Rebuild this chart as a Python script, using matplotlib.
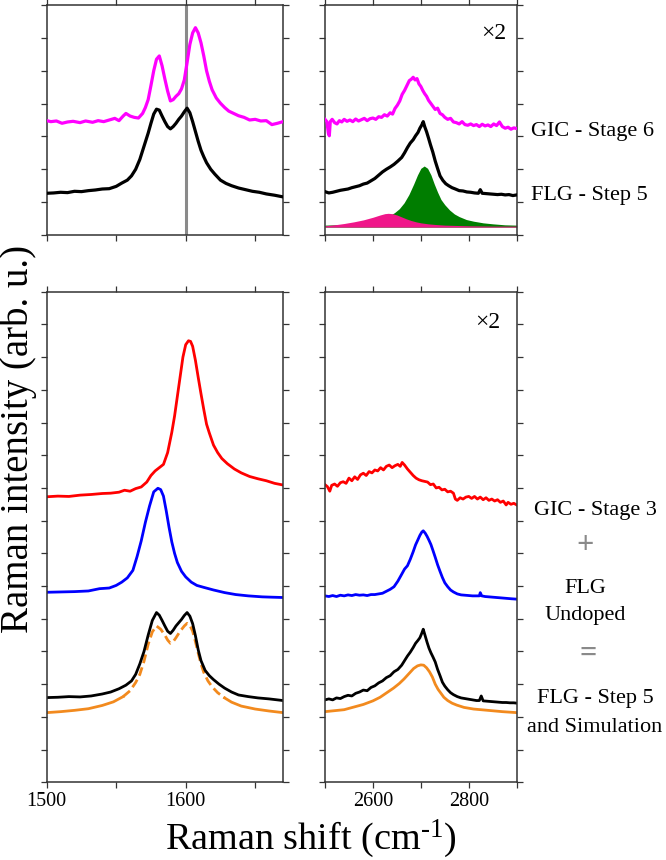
import numpy as np
import matplotlib
matplotlib.use('Agg')
import matplotlib.pyplot as plt

plt.rcParams['font.family'] = ['Liberation Serif', 'DejaVu Serif']
plt.rcParams['mathtext.fontset'] = 'custom'
plt.rcParams['mathtext.rm'] = 'Liberation Serif'
plt.rcParams['mathtext.default'] = 'regular'

# ---------------- data (x = Raman shift, y = offset intensity, arb. u.) ----------------
# top-left: G band
tl_gic6 = np.array([
    [1500, 3.48], [1503, 3.45], [1507, 3.47], [1511, 3.40], [1515, 3.44], [1519, 3.46],
    [1524, 3.42], [1528, 3.47], [1533, 3.43], [1537, 3.48], [1541, 3.45], [1545, 3.50],
    [1549, 3.55], [1552, 3.48], [1555, 3.62], [1557, 3.70], [1560, 3.62], [1563, 3.58],
    [1566, 3.56], [1569, 3.70], [1571, 3.88], [1573, 4.12], [1575, 4.55], [1577, 5.00],
    [1579, 5.35], [1581, 5.45], [1583, 5.15], [1585, 4.75], [1587, 4.38], [1589, 4.08],
    [1591, 4.12], [1593, 4.22], [1595, 4.30], [1597, 4.45], [1599, 4.72], [1601, 5.25],
    [1603, 5.80], [1605, 6.15], [1607, 6.31], [1609, 6.15], [1611, 5.85], [1613, 5.45],
    [1615, 5.00], [1617, 4.68], [1619, 4.42], [1622, 4.17], [1625, 4.01], [1628, 3.88],
    [1631, 3.77], [1634, 3.71], [1638, 3.63], [1642, 3.58], [1646, 3.50], [1650, 3.52],
    [1654, 3.47], [1658, 3.48], [1662, 3.36], [1666, 3.40], [1670, 3.45]])
tl_flg5 = np.array([
    [1500, 1.27], [1505, 1.28], [1510, 1.30], [1515, 1.29], [1520, 1.33], [1525, 1.32],
    [1530, 1.35], [1535, 1.37], [1540, 1.40], [1545, 1.41], [1550, 1.48], [1554, 1.58],
    [1558, 1.67], [1561, 1.80], [1564, 2.00], [1567, 2.30], [1570, 2.70], [1573, 3.10],
    [1575, 3.40], [1577, 3.68], [1579, 3.83], [1581, 3.80], [1583, 3.62], [1585, 3.45],
    [1587, 3.30], [1589, 3.23], [1591, 3.30], [1593, 3.40], [1595, 3.52], [1597, 3.62],
    [1599, 3.75], [1601, 3.86], [1603, 3.72], [1605, 3.45], [1607, 3.15], [1609, 2.85],
    [1611, 2.58], [1613, 2.38], [1615, 2.20], [1618, 2.00], [1621, 1.85], [1625, 1.67],
    [1629, 1.57], [1633, 1.50], [1638, 1.43], [1643, 1.38], [1648, 1.33], [1653, 1.30],
    [1658, 1.25], [1664, 1.21], [1670, 1.16]])

# top-right: 2D band
tr_gic6 = np.array([
    [2500, 3.52], [2504, 3.45], [2507, 3.10], [2509, 3.02], [2511, 3.45], [2515, 3.52],
    [2520, 3.42], [2525, 3.38], [2530, 3.48], [2535, 3.44], [2540, 3.52], [2546, 3.46],
    [2552, 3.50], [2558, 3.45], [2564, 3.53], [2570, 3.47], [2576, 3.51], [2582, 3.55],
    [2588, 3.48], [2594, 3.54], [2600, 3.56], [2606, 3.52], [2612, 3.60], [2618, 3.58],
    [2624, 3.66], [2630, 3.62], [2636, 3.72], [2641, 3.68], [2646, 3.85], [2651, 3.95],
    [2656, 4.08], [2661, 4.28], [2666, 4.40], [2671, 4.55], [2676, 4.70], [2680, 4.74],
    [2684, 4.80], [2688, 4.72], [2692, 4.76], [2696, 4.60], [2700, 4.52], [2704, 4.40],
    [2708, 4.30], [2712, 4.22], [2716, 4.10], [2720, 4.02], [2725, 3.92], [2730, 3.82],
    [2735, 3.86], [2740, 3.70], [2745, 3.66], [2750, 3.58], [2756, 3.52], [2762, 3.55],
    [2768, 3.44], [2774, 3.42], [2780, 3.38], [2786, 3.45], [2792, 3.36], [2798, 3.34],
    [2804, 3.38], [2810, 3.33], [2816, 3.36], [2822, 3.30], [2828, 3.37], [2834, 3.32],
    [2840, 3.35], [2846, 3.30], [2852, 3.38], [2858, 3.33], [2864, 3.44], [2870, 3.30],
    [2876, 3.25], [2882, 3.28], [2888, 3.22], [2894, 3.26], [2900, 3.24]])
tr_flg5 = np.array([
    [2500, 1.32], [2508, 1.28], [2516, 1.30], [2524, 1.33], [2532, 1.36], [2540, 1.38],
    [2548, 1.40], [2556, 1.44], [2564, 1.47], [2572, 1.50], [2580, 1.55], [2588, 1.58],
    [2596, 1.65], [2604, 1.72], [2612, 1.82], [2620, 1.92], [2628, 2.00], [2636, 2.07],
    [2644, 2.15], [2652, 2.25], [2660, 2.36], [2666, 2.50], [2672, 2.66], [2678, 2.80],
    [2684, 2.90], [2689, 3.02], [2694, 3.12], [2698, 3.25], [2702, 3.35], [2705, 3.45],
    [2708, 3.30], [2712, 3.14], [2716, 2.95], [2720, 2.75], [2725, 2.52], [2730, 2.25],
    [2735, 2.02], [2740, 1.80], [2746, 1.66], [2752, 1.56], [2758, 1.50], [2765, 1.44],
    [2772, 1.40], [2780, 1.35], [2788, 1.34], [2796, 1.31], [2804, 1.30], [2812, 1.28],
    [2820, 1.27], [2824, 1.38], [2828, 1.27], [2836, 1.26], [2844, 1.25], [2852, 1.24],
    [2860, 1.23], [2868, 1.24], [2876, 1.22], [2884, 1.23], [2892, 1.20], [2900, 1.22]])
tr_fit_base = 0.24
tr_fit_green = np.array([
    [2500, 0.30], [2520, 0.31], [2540, 0.32], [2560, 0.34], [2580, 0.37], [2600, 0.42],
    [2615, 0.47], [2630, 0.55], [2645, 0.68], [2655, 0.80], [2665, 0.98], [2675, 1.23],
    [2685, 1.55], [2693, 1.83], [2700, 2.03], [2707, 2.10], [2714, 2.03], [2721, 1.83],
    [2728, 1.55], [2735, 1.30], [2742, 1.08], [2750, 0.92], [2760, 0.76], [2770, 0.64],
    [2780, 0.56], [2795, 0.47], [2810, 0.42], [2830, 0.37], [2850, 0.34], [2875, 0.31],
    [2900, 0.30]])
tr_fit_pink = np.array([
    [2500, 0.28], [2520, 0.31], [2540, 0.35], [2560, 0.40], [2580, 0.46], [2600, 0.54],
    [2615, 0.61], [2625, 0.65], [2632, 0.66], [2640, 0.65], [2650, 0.61], [2660, 0.55],
    [2670, 0.49], [2680, 0.44], [2690, 0.40], [2700, 0.37], [2715, 0.34], [2730, 0.32],
    [2750, 0.30], [2775, 0.29], [2800, 0.28], [2850, 0.27], [2900, 0.27]])

# bottom-left: G band
bl_gic3 = np.array([
    [1500, 8.73], [1508, 8.75], [1516, 8.74], [1524, 8.78], [1532, 8.80], [1540, 8.83],
    [1546, 8.84], [1552, 8.87], [1556, 8.93], [1560, 8.90], [1564, 8.98], [1568, 9.03],
    [1572, 9.18], [1575, 9.38], [1578, 9.52], [1581, 9.62], [1584, 9.72], [1587, 10.08],
    [1590, 10.70], [1592, 11.20], [1594, 11.80], [1596, 12.40], [1598, 13.00], [1600, 13.38],
    [1602, 13.50], [1603.5, 13.48], [1605, 13.33], [1607, 12.90], [1609, 12.38], [1611, 11.88],
    [1613, 11.40], [1615, 10.95], [1617, 10.68], [1620, 10.31], [1623, 10.08], [1626, 9.90],
    [1630, 9.74], [1635, 9.58], [1640, 9.46], [1646, 9.35], [1652, 9.28], [1658, 9.22],
    [1664, 9.14], [1670, 9.09]])
bl_undoped = np.array([
    [1500, 5.81], [1510, 5.82], [1520, 5.83], [1530, 5.85], [1538, 5.92], [1545, 5.94],
    [1550, 6.02], [1554, 6.12], [1558, 6.25], [1562, 6.48], [1565, 6.90], [1568, 7.38],
    [1571, 7.95], [1574, 8.45], [1577, 8.88], [1580, 8.99], [1582, 8.95], [1584, 8.75],
    [1586, 8.30], [1588, 7.80], [1590, 7.35], [1592, 7.00], [1594, 6.72], [1597, 6.45],
    [1600, 6.28], [1604, 6.12], [1608, 6.02], [1613, 5.96], [1620, 5.88], [1628, 5.80],
    [1636, 5.74], [1645, 5.70], [1655, 5.67], [1662, 5.66], [1670, 5.65]])
bl_flg5 = np.array([
    [1500, 2.59], [1508, 2.60], [1516, 2.62], [1524, 2.61], [1532, 2.64], [1540, 2.70],
    [1546, 2.76], [1552, 2.86], [1557, 2.97], [1561, 3.10], [1564, 3.30], [1567, 3.62],
    [1570, 4.00], [1573, 4.50], [1576, 4.95], [1579, 5.19], [1581, 5.11], [1583, 4.95],
    [1585, 4.78], [1587, 4.62], [1589, 4.55], [1591, 4.65], [1593, 4.78], [1595, 4.88],
    [1597, 4.98], [1599, 5.10], [1601, 5.19], [1603, 5.08], [1605, 4.85], [1607, 4.48],
    [1609, 4.05], [1611, 3.72], [1614, 3.42], [1617, 3.26], [1620, 3.14], [1624, 3.00],
    [1628, 2.88], [1633, 2.76], [1638, 2.67], [1645, 2.62], [1652, 2.58], [1660, 2.55],
    [1670, 2.50]])
bl_sim = np.array([
    [1500, 2.13], [1510, 2.16], [1520, 2.20], [1530, 2.25], [1540, 2.35], [1548, 2.46],
    [1555, 2.62], [1560, 2.80], [1564, 3.05], [1567, 3.30], [1570, 3.70], [1573, 4.22],
    [1576, 4.60], [1579, 4.78], [1582, 4.68], [1585, 4.50], [1587, 4.35], [1589, 4.25],
    [1591, 4.30], [1593, 4.42], [1596, 4.62], [1599, 4.78], [1601, 4.86], [1603, 4.80],
    [1605, 4.62], [1607, 4.30], [1609, 3.95], [1611, 3.62], [1613, 3.36], [1616, 3.10],
    [1619, 2.92], [1623, 2.74], [1628, 2.58], [1633, 2.45], [1640, 2.33], [1650, 2.24],
    [1660, 2.18], [1670, 2.13]])
bl_sim_dashed_range = (1555, 1628)

# bottom-right: 2D band
br_gic3 = np.array([
    [2500, 9.10], [2505, 9.04], [2510, 8.90], [2514, 9.08], [2520, 9.12], [2526, 9.05],
    [2532, 9.16], [2538, 9.19], [2544, 9.14], [2550, 9.30], [2556, 9.22], [2562, 9.34],
    [2568, 9.26], [2574, 9.40], [2580, 9.45], [2586, 9.38], [2592, 9.50], [2598, 9.46],
    [2604, 9.55], [2610, 9.52], [2616, 9.62], [2622, 9.55], [2628, 9.66], [2634, 9.70],
    [2640, 9.62], [2646, 9.68], [2652, 9.72], [2657, 9.66], [2661, 9.78], [2666, 9.70],
    [2672, 9.58], [2678, 9.48], [2684, 9.38], [2690, 9.30], [2696, 9.25], [2702, 9.22],
    [2708, 9.20], [2714, 9.18], [2720, 9.10], [2726, 9.12], [2732, 9.00], [2738, 9.02],
    [2744, 8.94], [2750, 8.96], [2756, 8.88], [2762, 8.90], [2768, 8.84], [2772, 8.66],
    [2776, 8.62], [2782, 8.70], [2788, 8.66], [2794, 8.72], [2800, 8.74], [2806, 8.68],
    [2812, 8.74], [2818, 8.66], [2824, 8.72], [2830, 8.64], [2836, 8.70], [2842, 8.62],
    [2848, 8.66], [2854, 8.60], [2860, 8.64], [2866, 8.56], [2872, 8.60], [2878, 8.48],
    [2882, 8.56], [2888, 8.50], [2894, 8.53], [2900, 8.48]])
br_undoped = np.array([
    [2500, 5.70], [2508, 5.68], [2516, 5.71], [2524, 5.68], [2532, 5.72], [2540, 5.70],
    [2548, 5.73], [2556, 5.71], [2564, 5.74], [2572, 5.72], [2580, 5.73], [2588, 5.71],
    [2596, 5.74], [2604, 5.74], [2612, 5.76], [2620, 5.78], [2628, 5.84], [2636, 5.90],
    [2644, 5.98], [2652, 6.15], [2660, 6.36], [2666, 6.52], [2672, 6.62], [2678, 6.82],
    [2684, 7.05], [2689, 7.26], [2694, 7.42], [2698, 7.55], [2702, 7.65], [2705, 7.69],
    [2709, 7.62], [2713, 7.52], [2717, 7.40], [2721, 7.27], [2725, 7.10], [2730, 6.88],
    [2735, 6.65], [2740, 6.45], [2745, 6.26], [2750, 6.10], [2756, 5.98], [2762, 5.88],
    [2768, 5.82], [2776, 5.76], [2784, 5.73], [2792, 5.72], [2800, 5.71], [2808, 5.70],
    [2816, 5.70], [2822, 5.70], [2824, 5.80], [2827, 5.70], [2834, 5.68], [2842, 5.67],
    [2850, 5.66], [2858, 5.65], [2866, 5.64], [2874, 5.63], [2882, 5.62], [2890, 5.61],
    [2900, 5.60]])
br_flg5 = np.array([
    [2500, 2.52], [2508, 2.55], [2516, 2.52], [2524, 2.58], [2532, 2.56], [2540, 2.62],
    [2548, 2.66], [2556, 2.64], [2564, 2.72], [2572, 2.76], [2580, 2.82], [2588, 2.80],
    [2596, 2.90], [2604, 2.95], [2612, 3.04], [2620, 3.10], [2628, 3.20], [2636, 3.26],
    [2644, 3.38], [2652, 3.45], [2660, 3.58], [2666, 3.72], [2672, 3.86], [2678, 3.98],
    [2684, 4.12], [2689, 4.25], [2694, 4.34], [2698, 4.42], [2702, 4.56], [2705, 4.68],
    [2709, 4.48], [2713, 4.28], [2717, 4.10], [2721, 3.96], [2725, 3.84], [2730, 3.68],
    [2735, 3.45], [2740, 3.26], [2745, 3.06], [2750, 2.94], [2756, 2.83], [2762, 2.74],
    [2768, 2.68], [2776, 2.62], [2784, 2.58], [2792, 2.56], [2800, 2.54], [2808, 2.52],
    [2816, 2.50], [2822, 2.50], [2826, 2.64], [2830, 2.49], [2838, 2.48], [2846, 2.47],
    [2854, 2.46], [2862, 2.45], [2870, 2.44], [2878, 2.44], [2886, 2.43], [2894, 2.43],
    [2900, 2.42]])
br_sim = np.array([
    [2500, 2.16], [2520, 2.19], [2540, 2.22], [2560, 2.30], [2580, 2.38], [2600, 2.49],
    [2615, 2.60], [2630, 2.75], [2643, 2.88], [2655, 3.02], [2665, 3.16], [2675, 3.32],
    [2685, 3.48], [2693, 3.56], [2700, 3.59], [2706, 3.58], [2712, 3.50], [2718, 3.38],
    [2724, 3.22], [2730, 3.00], [2736, 2.84], [2742, 2.72], [2748, 2.60], [2756, 2.50],
    [2765, 2.42], [2775, 2.36], [2790, 2.29], [2810, 2.24], [2840, 2.20], [2870, 2.16],
    [2900, 2.13]])

g_xlim = (1500, 1670)
d_xlim = (2500, 2900)
g_ticks = [1500, 1550, 1600, 1650]
g_ticklabels = ['1500', '', '1600', '']
d_ticks = [2500, 2600, 2700, 2800, 2900]
d_ticklabels = ['', '2600', '', '2800', '']
top_ylim = (0, 7)
bot_ylim = (0, 15)
ref_line_x = 1600

labels_top = ['GIC - Stage 6', 'FLG - Step 5']
labels_bot = ['GIC - Stage 3', '+', 'FLG', 'Undoped', '=', 'FLG - Step 5', 'and Simulation']
scale_label = '\u00d72'
xlabel = 'Raman shift (cm$^{\\text{-1}}$)'
ylabel = 'Raman intensity (arb. u.)'

# ---------------- colours ----------------
C_MAG = '#ff00ff'
C_BLK = '#000000'
C_RED = '#ff0000'
C_BLU = '#0000ff'
C_ORA = '#f28a1e'
C_GRN = '#007d00'
C_PNK = '#f0168a'
C_GRY = '#8a8a8a'
C_SPN = '#333333'

W, H = 666, 860
fig = plt.figure(figsize=(W / 100, H / 100), dpi=100)


def rect(l, t, r, b):
    return [l / W, 1 - b / H, (r - l) / W, (b - t) / H]


ax_tl = fig.add_axes(rect(46.7, 5, 283, 235))
ax_tr = fig.add_axes(rect(325, 5, 516.7, 235))
ax_bl = fig.add_axes(rect(46.7, 291.7, 283, 782.3))
ax_br = fig.add_axes(rect(325, 291.7, 516.7, 782.3))


def style(ax, xlim, ylim, xt, xtl, show_xlabels):
    ax.set_xlim(*xlim)
    ax.set_ylim(*ylim)
    ax.set_xticks(xt)
    ax.set_xticklabels(xtl if show_xlabels else [''] * len(xt))
    ax.set_yticks(np.arange(ylim[0], ylim[1] + 1, 1))
    ax.set_yticklabels([])
    ax.tick_params(which='both', direction='out', top=True, right=True,
                   length=4.0, width=0.9, color=C_SPN, labelsize=14.5, pad=3)
    for s in ax.spines.values():
        s.set_linewidth(1.1)
        s.set_color(C_SPN)


LW_TOP = 2.3
LW_BOT = 2.0

# top-left
ax_tl.axvline(ref_line_x, color=C_GRY, lw=2.2, zorder=1)
ax_tl.plot(tl_gic6[:, 0], tl_gic6[:, 1], color=C_MAG, lw=LW_TOP, zorder=3)
ax_tl.plot(tl_flg5[:, 0], tl_flg5[:, 1], color=C_BLK, lw=LW_TOP, zorder=3)
style(ax_tl, g_xlim, top_ylim, g_ticks, g_ticklabels, False)

# top-right
ax_tr.fill_between(tr_fit_green[:, 0], tr_fit_base, tr_fit_green[:, 1], color=C_GRN, lw=0, zorder=2)
ax_tr.fill_between(tr_fit_pink[:, 0], tr_fit_base, tr_fit_pink[:, 1], color=C_PNK, lw=0, zorder=2)
ax_tr.plot(tr_gic6[:, 0], tr_gic6[:, 1], color=C_MAG, lw=LW_TOP, zorder=3)
ax_tr.plot(tr_flg5[:, 0], tr_flg5[:, 1], color=C_BLK, lw=LW_TOP, zorder=3)
style(ax_tr, d_xlim, top_ylim, d_ticks, d_ticklabels, False)

# bottom-left
ax_bl.plot(bl_gic3[:, 0], bl_gic3[:, 1], color=C_RED, lw=LW_BOT)
ax_bl.plot(bl_undoped[:, 0], bl_undoped[:, 1], color=C_BLU, lw=LW_BOT)
lo, hi = bl_sim_dashed_range
m_left = bl_sim[:, 0] <= lo
m_right = bl_sim[:, 0] >= hi
m_mid = (bl_sim[:, 0] >= lo) & (bl_sim[:, 0] <= hi)
ax_bl.plot(bl_sim[m_left, 0], bl_sim[m_left, 1], color=C_ORA, lw=LW_BOT)
ax_bl.plot(bl_sim[m_right, 0], bl_sim[m_right, 1], color=C_ORA, lw=LW_BOT)
ax_bl.plot(bl_sim[m_mid, 0], bl_sim[m_mid, 1], color=C_ORA, lw=LW_BOT, ls=(0, (3.2, 1.6)))
ax_bl.plot(bl_flg5[:, 0], bl_flg5[:, 1], color=C_BLK, lw=LW_BOT)
style(ax_bl, g_xlim, bot_ylim, g_ticks, g_ticklabels, True)

# bottom-right
ax_br.plot(br_gic3[:, 0], br_gic3[:, 1], color=C_RED, lw=LW_BOT)
ax_br.plot(br_undoped[:, 0], br_undoped[:, 1], color=C_BLU, lw=LW_BOT)
ax_br.plot(br_sim[:, 0], br_sim[:, 1], color=C_ORA, lw=LW_BOT)
ax_br.plot(br_flg5[:, 0], br_flg5[:, 1], color=C_BLK, lw=LW_BOT)
style(ax_br, d_xlim, bot_ylim, d_ticks, d_ticklabels, True)


def ftext(x, y, s, **kw):
    return fig.text(x / W, 1 - y / H, s, **kw)


FS_LAB = 16
ftext(506.7, 39.3, scale_label, ha='right', va='baseline', fontsize=17)
ftext(500.7, 328.3, scale_label, ha='right', va='baseline', fontsize=17)

ftext(531, 136, labels_top[0], ha='left', va='baseline', fontsize=FS_LAB)
ftext(531, 200, labels_top[1], ha='left', va='baseline', fontsize=FS_LAB)

ftext(534, 515, labels_bot[0], ha='left', va='baseline', fontsize=FS_LAB)
ftext(585, 552.5, labels_bot[1], ha='center', va='baseline', fontsize=22,
      fontweight='bold', color=C_GRY)
ftext(585, 593, labels_bot[2], ha='center', va='baseline', fontsize=FS_LAB)
ftext(585, 620, labels_bot[3], ha='center', va='baseline', fontsize=FS_LAB)
ftext(588, 662, labels_bot[4], ha='center', va='baseline', fontsize=22,
      fontweight='bold', color=C_GRY)
ftext(595, 703.3, labels_bot[5], ha='center', va='baseline', fontsize=FS_LAB)
ftext(595, 731.7, labels_bot[6], ha='center', va='baseline', fontsize=FS_LAB)

ftext(18.5, 439, ylabel, rotation=90, ha='center', va='center', fontsize=28)
ftext(311, 849, xlabel, ha='center', va='baseline', fontsize=27.5)

fig.savefig('out.png', dpi=100)
